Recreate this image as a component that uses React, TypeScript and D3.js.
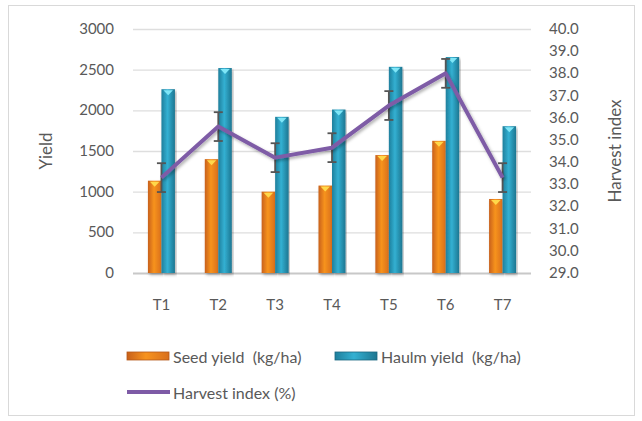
import React, { useRef, useEffect } from "react";
import * as d3 from "d3";

const categories = ["T1", "T2", "T3", "T4", "T5", "T6", "T7"];
const seedYield = [1135, 1400, 1000, 1075, 1450, 1625, 910];
const haulmYield = [2260, 2520, 1920, 2010, 2535, 2655, 1805];
const harvestIndex = [33.3, 35.6, 34.2, 34.65, 36.55, 38.0, 33.3];
const hiError = [0.65, 0.65, 0.65, 0.65, 0.65, 0.65, 0.65];
const leftTicks = [0, 500, 1000, 1500, 2000, 2500, 3000];
const rightTicks = d3.range(29, 40.5, 1);

const App = () => {
  const ref = useRef<SVGSVGElement>(null);

  useEffect(() => {
    const svg = d3.select(ref.current);
    svg.selectAll("*").remove();
    const font = "Lato, 'Open Sans', sans-serif";

    const left = 133,
      right = 531,
      top = 29,
      bottom = 273;

    // outer frame
    svg
      .append("rect")
      .attr("x", 8.5)
      .attr("y", 5.5)
      .attr("width", 626)
      .attr("height", 410)
      .attr("fill", "#fff")
      .attr("stroke", "#d9d9d9");

    const defs = svg.append("defs");
    const og = defs.append("linearGradient").attr("id", "og");
    og.append("stop").attr("offset", "0").attr("stop-color", "#c8601a");
    og.append("stop").attr("offset", "0.45").attr("stop-color", "#f7931e");
    og.append("stop").attr("offset", "1").attr("stop-color", "#d96f1c");
    const tg = defs.append("linearGradient").attr("id", "tg");
    tg.append("stop").attr("offset", "0").attr("stop-color", "#1f7f9c");
    tg.append("stop").attr("offset", "0.45").attr("stop-color", "#33b0d2");
    tg.append("stop").attr("offset", "1").attr("stop-color", "#1d7691");
    const sh = defs.append("filter").attr("id", "sh");
    sh.append("feDropShadow")
      .attr("dx", 1.5)
      .attr("dy", 2)
      .attr("stdDeviation", 1.5)
      .attr("flood-color", "#000")
      .attr("flood-opacity", 0.3);

    const x = d3.scaleBand().domain(categories).range([left, right]);
    const yL = d3.scaleLinear().domain([0, 3000]).range([bottom, top]);
    const yR = d3.scaleLinear().domain([29, 40]).range([bottom, top]);

    // gridlines
    svg
      .append("g")
      .selectAll("line")
      .data(leftTicks)
      .enter()
      .append("line")
      .attr("x1", left)
      .attr("x2", right)
      .attr("y1", (d) => yL(d) + 0.5)
      .attr("y2", (d) => yL(d) + 0.5)
      .attr("stroke", (d) => (d === 0 ? "#c8c8c8" : "#dedede"))
      .attr("stroke-width", (d) => (d === 0 ? 2 : 1.3));

    const bw = 13.5;
    const cx = (c: string) => (x(c) as number) + x.bandwidth() / 2;

    const drawBars = (vals: number[], off: number, fill: string, tip: string) => {
      const g = svg.append("g");
      g.selectAll("rect")
        .data(vals)
        .enter()
        .append("rect")
        .attr("x", (d, i) => cx(categories[i]) + off)
        .attr("y", (d) => yL(d))
        .attr("width", bw)
        .attr("height", (d) => yL(0) - yL(d))
        .attr("fill", fill)
        .attr("filter", "url(#sh)");
      g.selectAll("path")
        .data(vals)
        .enter()
        .append("path")
        .attr("d", (d, i) => {
          const x0 = cx(categories[i]) + off;
          const y0 = yL(d);
          return `M${x0 + 2},${y0 + 1}L${x0 + bw - 2},${y0 + 1}L${x0 + bw / 2},${y0 + 6}Z`;
        })
        .attr("fill", tip);
    };
    drawBars(seedYield, -bw, "url(#og)", "#ffd84a");
    drawBars(haulmYield, 0, "url(#tg)", "#7fe6f7");

    // error bars
    const eg = svg.append("g").attr("stroke", "#555").attr("stroke-width", 1.8);
    harvestIndex.forEach((v, i) => {
      const xc = cx(categories[i]);
      const e = hiError[i];
      eg.append("line").attr("x1", xc).attr("x2", xc).attr("y1", yR(v + e)).attr("y2", yR(v - e));
      eg.append("line").attr("x1", xc - 4.5).attr("x2", xc + 4.5).attr("y1", yR(v + e)).attr("y2", yR(v + e));
      eg.append("line").attr("x1", xc - 4.5).attr("x2", xc + 4.5).attr("y1", yR(v - e)).attr("y2", yR(v - e));
    });

    // harvest index line
    const line = d3
      .line<number>()
      .x((d, i) => cx(categories[i]))
      .y((d) => yR(d));
    svg
      .append("path")
      .datum(harvestIndex)
      .attr("d", line)
      .attr("fill", "none")
      .attr("stroke", "#7e5ba6")
      .attr("stroke-width", 4)
      .attr("stroke-linejoin", "round")
      .attr("filter", "url(#sh)");

    // left ticks
    svg
      .append("g")
      .selectAll("text")
      .data(leftTicks)
      .enter()
      .append("text")
      .attr("x", 114)
      .attr("y", (d) => yL(d) + 5)
      .attr("text-anchor", "end")
      .attr("font-family", font)
      .attr("font-size", 15)
      .attr("fill", "#595959")
      .text((d) => d);

    // right ticks
    svg
      .append("g")
      .selectAll("text")
      .data(rightTicks)
      .enter()
      .append("text")
      .attr("x", 549)
      .attr("y", (d) => yR(d) + 5)
      .attr("font-family", font)
      .attr("font-size", 15)
      .attr("fill", "#595959")
      .text((d) => d.toFixed(1));

    // category labels
    svg
      .append("g")
      .selectAll("text")
      .data(categories)
      .enter()
      .append("text")
      .attr("x", (d) => cx(d))
      .attr("y", 310)
      .attr("text-anchor", "middle")
      .attr("font-family", font)
      .attr("font-size", 15)
      .attr("fill", "#595959")
      .text((d) => d);

    // axis titles
    svg
      .append("text")
      .attr("transform", "translate(52,151) rotate(-90)")
      .attr("text-anchor", "middle")
      .attr("font-family", font)
      .attr("font-size", 17)
      .attr("fill", "#595959")
      .text("Yield");
    svg
      .append("text")
      .attr("transform", "translate(621,151) rotate(-90)")
      .attr("text-anchor", "middle")
      .attr("font-family", font)
      .attr("font-size", 17)
      .attr("fill", "#595959")
      .text("Harvest index");

    // legend
    const lg = svg
      .append("g")
      .attr("font-family", font)
      .attr("font-size", 16)
      .attr("fill", "#595959");
    lg.append("rect").attr("x", 127).attr("y", 352).attr("width", 42).attr("height", 8).attr("fill", "url(#og)").attr("stroke", "#b5581a").attr("stroke-width", 0.8);
    lg.append("text").attr("x", 173).attr("y", 363).text("Seed yield\u00a0 (kg/ha)");
    lg.append("rect").attr("x", 335).attr("y", 352).attr("width", 42).attr("height", 8).attr("fill", "url(#tg)").attr("stroke", "#1b6680").attr("stroke-width", 0.8);
    lg.append("text").attr("x", 381).attr("y", 363).text("Haulm yield\u00a0 (kg/ha)");
    lg.append("line").attr("x1", 127).attr("x2", 170).attr("y1", 392).attr("y2", 392).attr("stroke", "#7e5ba6").attr("stroke-width", 4);
    lg.append("text").attr("x", 173).attr("y", 399).text("Harvest index (%)");
  }, []);

  return <svg ref={ref} width={642} height={421} style={{ position: "absolute", left: 0, top: 0 }} />;
};

export default App;
